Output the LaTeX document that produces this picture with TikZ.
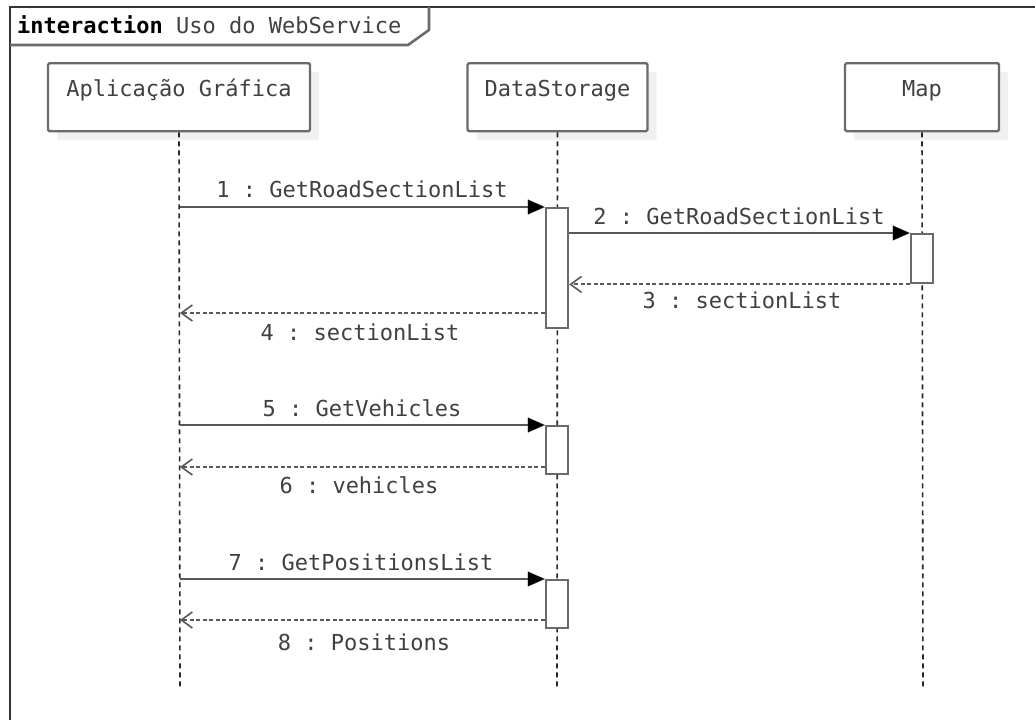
\documentclass[tikz,border=0pt]{standalone}
\usepackage{fontspec}
\setmonofont{DejaVu Sans Mono}
\usetikzlibrary{arrows.meta,shadows}
\definecolor{ink}{HTML}{404040}
\definecolor{edge}{HTML}{6A6A6A}
\definecolor{msg}{HTML}{585858}
\begin{document}
\begin{tikzpicture}[x=1pt,y=-1pt,
  every node/.style={font=\fontsize{22}{24}\selectfont\ttfamily, text=ink},
  head/.style={draw=edge, line width=2.4pt, rounded corners=1.5pt, fill=white,
    anchor=north, minimum height=68pt, text height=16.8pt, text depth=18pt,
    inner ysep=16.6pt, inner xsep=0pt,
    general shadow={shadow xshift=9pt, shadow yshift=-9pt, fill=black!6}},
  act/.style={draw=edge, line width=2.4pt, fill=white, anchor=north,
    minimum width=22pt, inner sep=0pt},
  life/.style={draw=black!85, line width=1.6pt, dash pattern=on 5pt off 4pt},
  sync/.style={draw=msg, line width=2.2pt,
    -{Triangle[length=17pt,width=15pt,fill=black,line width=0.1pt]}},
  reply/.style={draw=msg, line width=2pt, dash pattern=on 4pt off 2.5pt,
    -{Straight Barb[length=11pt,width=16pt,line width=1.6pt]}},
  lbl/.style={inner sep=0pt}]

\useasboundingbox (0,0) rectangle (1035,720);
\fill[white] (0,0) rectangle (1035,720);

% interaction frame and its name tab
\draw[black!80, line width=1.5pt] (1035,7) -- (10,7) -- (10,720);
\draw[edge, line width=2.6pt, line join=round] (10,45) -- (408,45) -- (429,30) -- (429,7);
\node[anchor=base west, inner sep=0pt] (title) at (17,33)
  {\textcolor{black}{\bfseries interaction} Uso do WebService};

% lifeline heads
\node[head, minimum width=262pt] (hA) at (179,62) {Aplicação Gráfica};
\node[head, minimum width=180pt] (hD) at (557.5,62) {DataStorage};
\node[head, minimum width=154pt] (hM) at (922,62) {Map};

% lifelines
\coordinate (eA) at (180,690);
\coordinate (eD) at (557,690);
\coordinate (eM) at (923,690);
\draw[life] (hA.south) -- (eA);
\draw[life] (hD.south) -- (eD);
\draw[life] (hM.south) -- (eM);

% activation bars
\node[act, minimum height=120pt] (d1) at (557,207) {};
\node[act, minimum height=49pt]  (mp) at (922,233) {};
\node[act, minimum height=48pt]  (d2) at (557,425) {};
\node[act, minimum height=48pt]  (d3) at (557,579) {};

% messages
\coordinate (s1) at (180,207);
\coordinate (r4) at (180,313);
\coordinate (s5) at (180,425);
\coordinate (r6) at (180,467);
\coordinate (s7) at (180,579);
\coordinate (r8) at (180,620);

\draw[sync]  (s1) -- (s1 -| d1.west);
\draw[sync]  (d1.east |- mp.north west) -- (mp.north west);
\draw[reply] (mp.south west) -- (d1.east |- mp.south west);
\draw[reply] (r4 -| d1.west) -- (r4);
\draw[sync]  (s5) -- (s5 -| d2.west);
\draw[reply] (r6 -| d2.west) -- (r6);
\draw[sync]  (s7) -- (s7 -| d3.west);
\draw[reply] (r8 -| d3.west) -- (r8);

% message labels
\node[lbl] (l1) at (362,189) {1 : GetRoadSectionList};
\node[lbl] (l2) at (739,216) {2 : GetRoadSectionList};
\node[lbl] (l3) at (742,300) {3 : sectionList};
\node[lbl] (l4) at (360,332) {4 : sectionList};
\node[lbl] (l5) at (362,408) {5 : GetVehicles};
\node[lbl] (l6) at (359,485) {6 : vehicles};
\node[lbl] (l7) at (361,562) {7 : GetPositionsList};
\node[lbl] (l8) at (364,642) {8 : Positions};
\end{tikzpicture}
\end{document}
